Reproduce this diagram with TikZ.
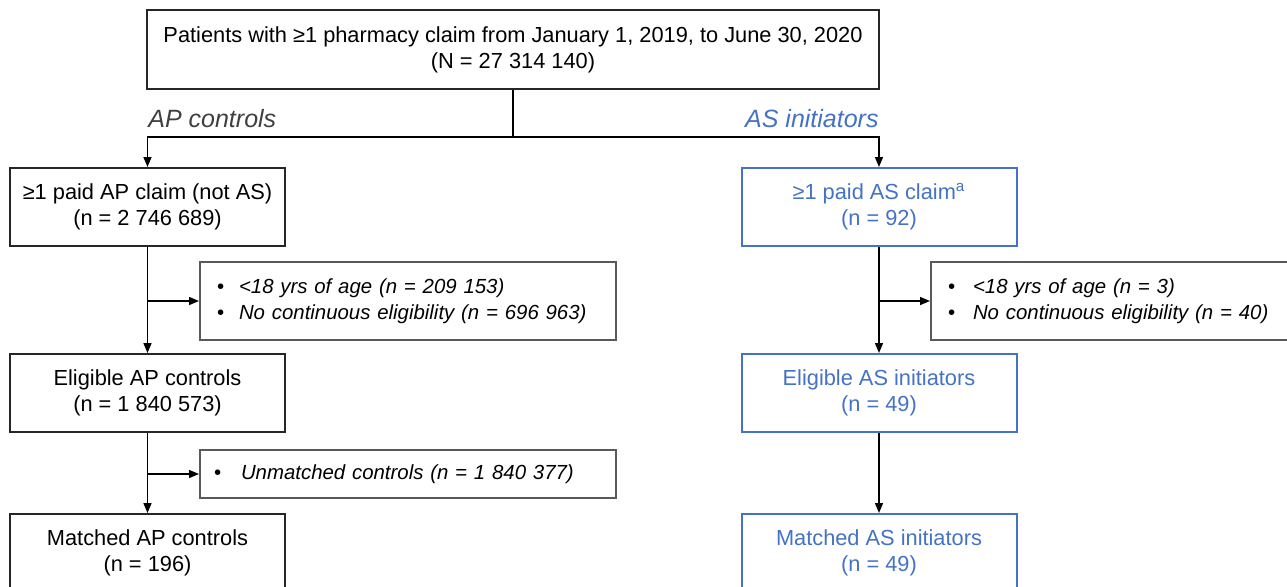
\documentclass[tikz,border=0pt]{standalone}
\usepackage{fontspec}
\setmainfont{Liberation Sans}
\usetikzlibrary{arrows.meta,positioning}
\definecolor{asblue}{RGB}{68,114,196}
\definecolor{labelgray}{RGB}{64,64,64}
\definecolor{exclgray}{RGB}{89,89,89}

\begin{document}
\begin{tikzpicture}[x=0.5pt,y=-0.5pt,
    box/.style={draw=black!85, line width=1pt, minimum width=137.5pt, minimum height=39pt,
      align=center, inner sep=0pt, font=\fontsize{10.9}{13}\selectfont},
    asbox/.style={box, draw=asblue, text=asblue},
    exclbox/.style={draw=exclgray, line width=1pt, anchor=west, align=left, inner xsep=8.5pt,
      inner ysep=0pt, font=\fontsize{10.2}{13}\selectfont\itshape},
    arr/.style={line width=0.75pt, -{Triangle[length=5pt,width=4pt]}}]
        \useasboundingbox (0,0) rectangle (1287,586);
        \clip (0,0) rectangle (1287,586);

        % top box
        \node[box, minimum width=366pt, minimum height=39.5pt] (pop) at (513,49.5)
          {Patients with ≥1 pharmacy claim from January 1, 2019, to June 30, 2020\\(N = 27 314 140)};
        \coordinate (split) at (513,137);

        % arm labels
        \node[anchor=west, inner sep=0pt, text=labelgray, font=\fontsize{12.5}{14}\selectfont\itshape] (aplabel) at (148,119) {AP controls};
        \node[anchor=east, inner sep=0pt, text=asblue, font=\fontsize{12.5}{14}\selectfont\itshape] (aslabel) at (879,119) {AS initiators};

        % AP controls
        \node[box] (ap1) at (147.5,207) {≥1 paid AP claim (not AS)\\(n = 2 746 689)};
        \node[box] (ap2) at (147.5,393) {Eligible AP controls\\(n = 1 840 573)};
        \node[box] (ap3) at (147.5,553) {Matched AP controls\\(n = 196)};
        \node[exclbox, minimum width=208pt, text width=191pt, minimum height=39pt] (apex1) at (199,301)
          {\makebox[11pt][l]{\upshape\textbullet}<18 yrs of age (n = 209 153)\\
           \makebox[11pt][l]{\upshape\textbullet}No continuous eligibility (n = 696 963)};
        \node[exclbox, minimum width=208pt, text width=194pt, inner xsep=7pt, minimum height=24pt] (apex2) at (199,474)
          {\makebox[13.5pt][l]{\upshape\textbullet}Unmatched controls (n = 1 840 377)};

        % AS initiators
        \node[asbox] (as1) at (879,207) {≥1 paid AS claim\textsuperscript{a}\\(n = 92)};
        \node[asbox] (as2) at (879,393) {Eligible AS initiators\\(n = 49)};
        \node[asbox] (as3) at (879,553) {Matched AS initiators\\(n = 49)};
        \node[exclbox, minimum width=190pt, text width=173pt, minimum height=39pt] (asex1) at (930,301)
          {\makebox[12.5pt][l]{\upshape\textbullet}<18 yrs of age (n = 3)\\
           \makebox[12.5pt][l]{\upshape\textbullet}No continuous eligibility (n = 40)};

        % connectors
        \draw[line width=0.75pt] (pop.south) -- (split);
        \draw[arr] (split) -| (ap1.north);
        \draw[arr] (split) -| (as1.north);

        \draw[arr] (ap1.south) -- (ap2.north);
        \draw[arr] (ap1.south |- apex1.west) -- (apex1.west);
        \draw[arr] (ap2.south) -- (ap3.north);
        \draw[arr] (ap2.south |- apex2.west) -- (apex2.west);

        \draw[arr] (as1.south) -- (as2.north);
        \draw[arr] (as1.south |- asex1.west) -- (asex1.west);
        \draw[arr] (as2.south) -- (as3.north);
\end{tikzpicture}
\end{document}
